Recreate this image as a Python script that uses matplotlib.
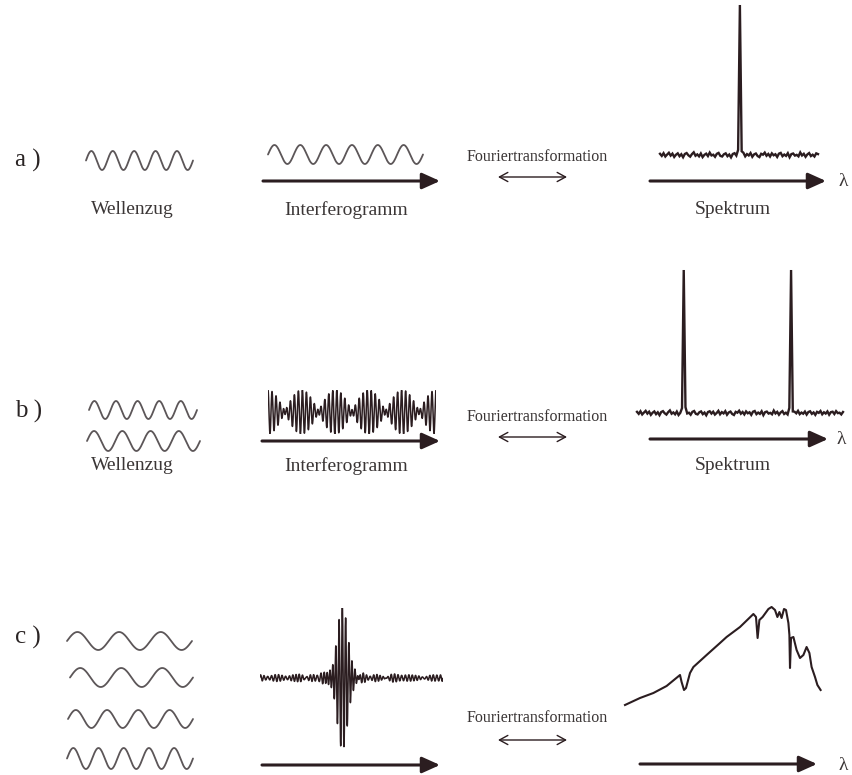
import numpy as np
import matplotlib
matplotlib.use("Agg")
import matplotlib.pyplot as plt

# ---------------------------------------------------------------- data
# full cycles of each wave train (Wellenzug) per row
wellen_a = [5]
wellen_b = [5, 4]
wellen_c = [3, 3, 4, 5]

# interferogram a: one monochromatic cosine
interf_a_cycles = 6
# interferogram b: two lines -> beating (cycles across the window, amplitudes)
interf_b_freqs = [44, 39]
interf_b_amps = [1.0, 0.8]

# detector baseline noise of the line spectra (relative units)
baseline_noise = [
    0.8, -0.6, 1.2, -1.0, 0.3, 1.5, -0.4, 0.9, -1.3, 0.2, 1.1, -0.8, 0.5, -1.5, 0.7, 1.3, -0.2, -1.1, 0.6, 1.8,
    -0.5, 0.4, -0.9, 1.0, -1.4, 0.1, 0.9, -0.7, 1.6, -0.3, 0.2, -1.2, 0.8, 1.4, -0.6, -1.0, 0.5, 1.1, -0.8, 0.3,
    -1.6, 0.7, 1.2, -0.4, 0.9, -1.1, 0.0, 1.5, -0.9, 0.6, -0.3, 1.3, -1.2, 0.4, 1.0, -0.7, -1.4, 0.8, 0.2, 1.6,
    -0.5, 0.7, -1.0, 1.1, -0.2, 0.5, -1.3, 0.9, 1.4, -0.8, 0.3, -0.6, 1.2, -1.5, 0.6, 1.0, -0.4, 0.1, -0.9, 1.7,
    -0.3, 0.8, -1.2, 0.4, 1.3, -0.7, 0.2, -1.0, 1.1, 0.6, -1.4, 0.9, -0.2, 1.5, -0.8, 0.3, -0.5, 1.0, -1.1, 0.7,
    1.2, -0.6, 0.4, -1.3, 0.8, 0.1, 1.4, -0.9, 0.5, -0.4, 1.1, -1.2, 0.6, 0.9, -0.7, 1.3, -0.1, 0.2, -1.0, 0.7,
]
spec_a_points = 90
spec_a_lines = [0.506]          # line position (relative wavelength)
spec_a_heights = [100.0]
spec_b_lines = [0.223, 0.752]
spec_b_heights = [100.0, 100.0]

# continuous spectrum c: relative wavelength vs. relative intensity
spec_c_lam = [0.000, 0.075, 0.142, 0.208, 0.275, 0.283, 0.295, 0.305, 0.325, 0.342,
              0.408, 0.475, 0.508, 0.575, 0.642, 0.655, 0.663, 0.672, 0.688, 0.717,
              0.733, 0.750, 0.762, 0.772, 0.783, 0.795, 0.805, 0.817, 0.822, 0.825,
              0.830, 0.842, 0.858, 0.875, 0.892, 0.908, 0.922, 0.933, 0.950, 0.962, 0.978]
spec_c_int = [0.05, 0.12, 0.17, 0.24, 0.35, 0.28, 0.20, 0.22, 0.37, 0.43,
              0.55, 0.67, 0.73, 0.83, 0.96, 0.93, 0.72, 0.90, 0.93, 1.01,
              1.03, 1.00, 0.93, 0.98, 0.92, 1.01, 1.00, 0.87, 0.75, 0.42,
              0.72, 0.73, 0.60, 0.52, 0.55, 0.63, 0.57, 0.43, 0.33, 0.25, 0.20]

labels_row = ["a )", "b )", "c )"]
txt_wave = "Wellenzug"
txt_interf = "Interferogramm"
txt_spec = "Spektrum"
txt_ft = "Fouriertransformation"
txt_lambda = "λ"

# ---------------------------------------------------------------- figure
W, H = 852, 775
fig = plt.figure(figsize=(W / 100, H / 100), dpi=100)
fig.patch.set_facecolor("white")

INK = "#2b1d20"
WAVE = "#5c5658"
TXT = "#3b3636"
SERIF = ["Liberation Serif", "DejaVu Serif"]

overlay = fig.add_axes([0, 0, 1, 1])
overlay.set_xlim(0, W)
overlay.set_ylim(H, 0)
overlay.set_axis_off()


def box(x0, y0, x1, y1):
    """Axes occupying a pixel rectangle (top-left origin)."""
    ax = fig.add_axes([x0 / W, 1 - y1 / H, (x1 - x0) / W, (y1 - y0) / H])
    ax.set_axis_off()
    return ax


def wave(rect, cycles, color=WAVE, lw=1.3):
    ax = box(*rect)
    t = np.linspace(0, cycles, 80 * cycles + 1)
    ax.plot(t, np.sin(2 * np.pi * t), color=color, lw=lw, clip_on=False,
            solid_capstyle="round")
    ax.set_xlim(0, cycles)
    ax.set_ylim(-1, 1)
    return ax


def arrow(x0, x1, y):
    overlay.annotate("", xy=(x1, y), xytext=(x0, y),
                     arrowprops=dict(arrowstyle="-|>,head_length=0.6,head_width=0.27",
                                     mutation_scale=18, lw=2.2, color=INK,
                                     shrinkA=0, shrinkB=0))


def ft_arrow(x0, x1, y):
    overlay.annotate("", xy=(x1, y), xytext=(x0, y),
                     arrowprops=dict(arrowstyle="<->,head_length=0.55,head_width=0.3",
                                     mutation_scale=11, lw=1.0, color=INK,
                                     shrinkA=0, shrinkB=0))


def text(x, y, s, size=14, ha="center", va="center", color=TXT):
    overlay.text(x, y, s, fontsize=size, family=SERIF, color=color, ha=ha, va=va)


def line_spectrum(rect, lines, heights, n):
    ax = box(*rect)
    lam = np.linspace(0, 1, n)
    inten = np.array(baseline_noise[:n], dtype=float)
    for pos, h in zip(lines, heights):
        i = int(round(pos * (n - 1)))
        inten[i] = h
        inten[i - 1] += 2.5
        inten[i + 1] += 2.5
    ax.plot(lam, inten, color=INK, lw=1.7, clip_on=False, solid_joinstyle="miter")
    ax.set_xlim(0, 1)
    ax.set_ylim(0, 100)
    return ax


# ---------------------------------------------------------------- row a
text(15, 160, labels_row[0], size=18, ha="left", color="#2a2424")
wave((86, 151, 193, 170), wellen_a[0])
text(132, 210, txt_wave)
wave((268, 145, 423, 164), interf_a_cycles)
arrow(263, 440, 181)
text(346, 210, txt_interf)
text(537, 157, txt_ft, size=11.5)
ft_arrow(498, 567, 177)
line_spectrum((660, 5, 818, 155), spec_a_lines, spec_a_heights, spec_a_points)
arrow(650, 826, 181)
text(843, 182, txt_lambda, size=14)
text(733, 210, txt_spec)

# ---------------------------------------------------------------- row b
text(15, 411, labels_row[1], size=18, ha="left", color="#2a2424")
wave((89, 401, 197, 419), wellen_b[0])
wave((87, 431, 200, 451), wellen_b[1])
text(132, 466, txt_wave)

ax_ib = box(268, 390, 436, 434)
xb = np.linspace(0, 1, 3000)
ib = sum(a * np.cos(2 * np.pi * f * xb) for f, a in zip(interf_b_freqs, interf_b_amps))
ax_ib.plot(xb, ib, color=INK, lw=1.1)
ax_ib.set_xlim(0, 1)
ax_ib.set_ylim(-sum(interf_b_amps), sum(interf_b_amps))
arrow(262, 440, 441)
text(346, 466, txt_interf)
text(537, 417, txt_ft, size=11.5)
ft_arrow(498, 567, 437)
line_spectrum((637, 270, 843, 413), spec_b_lines, spec_b_heights, len(baseline_noise))
arrow(650, 828, 439)
text(841, 440, txt_lambda, size=14)
text(733, 466, txt_spec)

# ---------------------------------------------------------------- row c
text(15, 637, labels_row[2], size=18, ha="left", color="#2a2424")
wave((67, 632, 192, 650), wellen_c[0])
wave((70, 668, 193, 687), wellen_c[1])
wave((68, 710, 193, 728), wellen_c[2])
wave((67, 748, 193, 769), wellen_c[3])

# interferogram c: cosine transform of spectrum c (centre burst)
lam_fine = np.linspace(0, 1, 500)
s_fine = np.interp(lam_fine, spec_c_lam, spec_c_int)
sigma = 40 + 25 * lam_fine
xc = np.linspace(0, 1, 4000)
x_zpd = 0.45
ic = (s_fine[None, :] * np.cos(2 * np.pi * sigma[None, :] * (xc[:, None] - x_zpd))).sum(axis=1)
ic /= np.abs(ic).max()
ic += 0.035 * np.sin(2 * np.pi * 52 * xc)
ax_ic = box(260, 608, 443, 748)
ax_ic.plot(xc, ic, color=INK, lw=1.1)
ax_ic.set_xlim(0, 1)
ax_ic.set_ylim(-1, 1)
arrow(262, 440, 765)

text(537, 718, txt_ft, size=11.5)
ft_arrow(498, 567, 740)

ax_sc = box(625, 610, 825, 710)
ax_sc.plot(spec_c_lam, spec_c_int, color=INK, lw=1.5, clip_on=False)
ax_sc.set_xlim(0, 1)
ax_sc.set_ylim(0, 1)
arrow(640, 817, 764)
text(843, 766, txt_lambda, size=14)

fig.savefig("out.png", dpi=100, facecolor="white")
